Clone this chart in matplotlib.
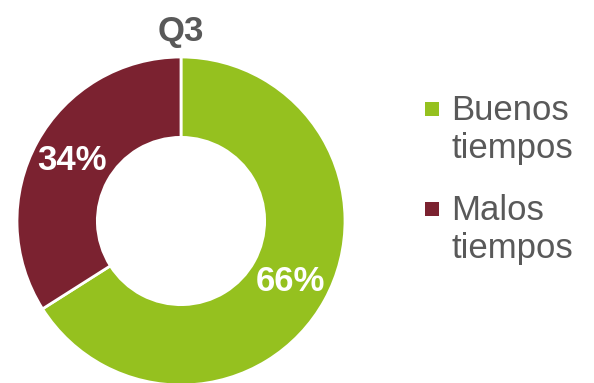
import matplotlib.pyplot as plt
from matplotlib.patches import Rectangle

plt.rcParams['font.family'] = ['Liberation Sans', 'DejaVu Sans']

labels = ["Buenos\ntiempos", "Malos\ntiempos"]
values = [66, 34]
colors = ["#95C11F", "#7B2230"]
title = "Q3"
gray = "#595959"

fig = plt.figure(figsize=(5.94, 3.83), dpi=100)
ax = fig.add_axes([17 / 594, -2 / 383, 328 / 594, 328 / 383])

wedges, texts, autotexts = ax.pie(
    values, colors=colors, startangle=90, counterclock=False,
    radius=1.0, autopct="%d%%", pctdistance=0.76,
    wedgeprops=dict(width=0.49, edgecolor="white", linewidth=2),
    textprops=dict(color="white", fontsize=25, fontweight="bold"),
)
ax.set_xlim(-1, 1)
ax.set_ylim(-1, 1)
ax.set_aspect("equal")
ax.axis("off")

fig.text(181 / 594, 1 - 41 / 383, title, ha="center", va="baseline",
         fontsize=25, fontweight="bold", color=gray)

# legend drawn by hand: square marker + two-line label
for i, (lab, col) in enumerate(zip(labels, colors)):
    yc = [109, 209][i]
    fig.patches.append(Rectangle((425 / 594, 1 - (yc + 7) / 383), 14 / 594, 14 / 383,
                                 transform=fig.transFigure, facecolor=col,
                                 edgecolor="none"))
    fig.text(451 / 594, 1 - [158, 258][i] / 383, lab, ha="left", va="baseline",
             fontsize=25, color=gray, linespacing=1.2)

fig.savefig("out.png", dpi=100)
